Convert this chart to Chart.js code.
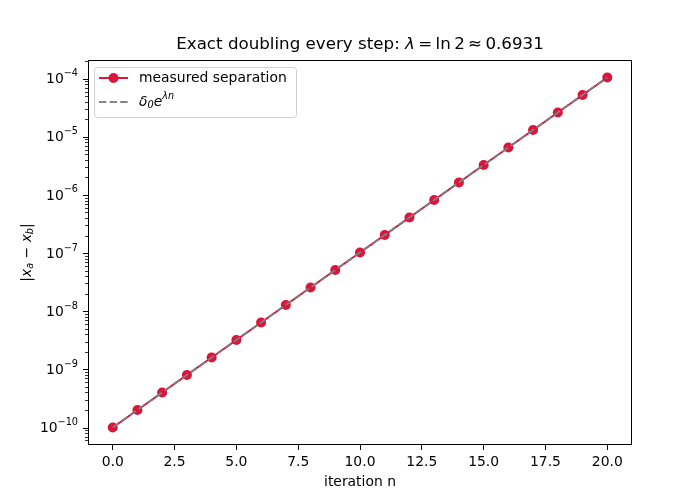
<!DOCTYPE html>
<html>
<head>
<meta charset="utf-8">
<script src="https://cdn.jsdelivr.net/npm/chart.js@4.4.0/dist/chart.umd.min.js"></script>
<style>
  html, body { margin: 0; padding: 0; background: #fff; }
  #wrap { width: 700px; height: 500px; }
</style>
</head>
<body>
<div id="wrap"><canvas id="chart" width="700" height="500"></canvas></div>
<script>
// data
const iterations = [0, 1, 2, 3, 4, 5, 6, 7, 8, 9, 10, 11, 12, 13, 14, 15, 16, 17, 18, 19, 20]
const measured = [
  1e-10, 2e-10, 4e-10, 8e-10, 1.6e-9, 3.2e-9, 6.4e-9, 1.28e-8, 2.56e-8, 5.12e-8,
  1.024e-7, 2.048e-7, 4.096e-7, 8.192e-7, 1.6384e-6, 3.2768e-6, 6.5536e-6,
  1.31072e-5, 2.62144e-5, 5.24288e-5, 1.048576e-4,
]
const fitLine = [
  1e-10, 2e-10, 4e-10, 8e-10, 1.6e-9, 3.2e-9, 6.4e-9, 1.28e-8, 2.56e-8, 5.12e-8,
  1.024e-7, 2.048e-7, 4.096e-7, 8.192e-7, 1.6384e-6, 3.2768e-6, 6.5536e-6,
  1.31072e-5, 2.62144e-5, 5.24288e-5, 1.048576e-4,
]
const xTicks = [0, 2.5, 5, 7.5, 10, 12.5, 15, 17.5, 20]
const yExps = [-10, -9, -8, -7, -6, -5, -4]

const FONT = '"DejaVu Sans", sans-serif'
const RED = '#dc143c'
const GRAY = 'rgba(128,128,128,0.95)'

// draw a run of text pieces (for sub/superscripts and italics)
function runWidth(ctx, runs) {
  let w = 0
  runs.forEach((r) => {
    ctx.font = (r.italic ? 'italic ' : '') + r.size + 'px ' + FONT
    w += ctx.measureText(r.t).width
  })
  return w
}
function drawRuns(ctx, runs, x, y) {
  ctx.textAlign = 'left'
  ctx.textBaseline = 'middle'
  runs.forEach((r) => {
    ctx.font = (r.italic ? 'italic ' : '') + r.size + 'px ' + FONT
    ctx.fillText(r.t, x, y + (r.dy || 0))
    x += ctx.measureText(r.t).width
  })
}

const decor = {
  id: 'decor',
  afterDraw(chart) {
    const ctx = chart.ctx
    const a = chart.chartArea
    const ys = chart.scales.y
    ctx.save()
    ctx.fillStyle = '#000'
    ctx.strokeStyle = '#000'

    // frame
    ctx.lineWidth = 1
    ctx.strokeRect(a.left + 0.5, a.top + 0.5, a.right - a.left - 1, a.bottom - a.top - 1)

    // y ticks, major and minor
    for (let e = -11; e <= -4; e++) {
      for (let k = 1; k <= 9; k++) {
        const v = k * Math.pow(10, e)
        if (v < ys.min || v > ys.max) continue
        const py = Math.round(ys.getPixelForValue(v)) + 0.5
        const len = k === 1 ? 5 : 3
        ctx.lineWidth = k === 1 ? 1 : 0.8
        ctx.beginPath()
        ctx.moveTo(a.left, py)
        ctx.lineTo(a.left - len, py)
        ctx.stroke()
      }
    }
    // y tick labels 10^e
    yExps.forEach((e) => {
      const py = ys.getPixelForValue(Math.pow(10, e))
      const runs = [
        { t: '10', size: 13.9 },
        { t: '\u2212' + Math.abs(e), size: 9.7, dy: -6 },
      ]
      const w = runWidth(ctx, runs)
      drawRuns(ctx, runs, a.left - 10 - w, py + 1)
    })

    // title
    const title = [
      { t: 'Exact doubling every step: ', size: 16.7 },
      { t: '\u03bb', size: 16.7, italic: true },
      { t: '\u2009=\u2009ln\u20092\u2009\u2248\u20090.6931', size: 16.7 },
    ]
    const tw = runWidth(ctx, title)
    drawRuns(ctx, title, (a.left + a.right) / 2 - tw / 2, 45)

    // y axis label
    ctx.save()
    ctx.translate(27, (a.top + a.bottom) / 2)
    ctx.rotate(-Math.PI / 2)
    const ylab = [
      { t: '|', size: 13.9 },
      { t: 'x', size: 13.9, italic: true },
      { t: 'a', size: 9.7, italic: true, dy: 3 },
      { t: ' \u2212 ', size: 13.9 },
      { t: 'x', size: 13.9, italic: true },
      { t: 'b', size: 9.7, italic: true, dy: 3 },
      { t: '|', size: 13.9 },
    ]
    const yw = runWidth(ctx, ylab)
    drawRuns(ctx, ylab, -yw / 2, 0)
    ctx.restore()

    // legend
    const lx = a.left + 6, ly = a.top + 7, lw = 202, lh = 50
    ctx.beginPath()
    ctx.roundRect(lx + 0.5, ly + 0.5, lw, lh, 3)
    ctx.fillStyle = 'rgba(255,255,255,0.8)'
    ctx.fill()
    ctx.strokeStyle = '#d0d0d0'
    ctx.lineWidth = 1
    ctx.stroke()

    const r1 = ly + 11, r2 = ly + 35
    ctx.strokeStyle = RED
    ctx.lineWidth = 2
    ctx.beginPath()
    ctx.moveTo(lx + 5, r1)
    ctx.lineTo(lx + 34, r1)
    ctx.stroke()
    ctx.fillStyle = RED
    ctx.beginPath()
    ctx.arc(lx + 19.5, r1, 5, 0, Math.PI * 2)
    ctx.fill()

    ctx.strokeStyle = GRAY
    ctx.setLineDash([7.4, 3.2])
    ctx.beginPath()
    ctx.moveTo(lx + 5, r2)
    ctx.lineTo(lx + 34, r2)
    ctx.stroke()
    ctx.setLineDash([])

    ctx.fillStyle = '#000'
    drawRuns(ctx, [{ t: 'measured separation', size: 13.9 }], lx + 45, r1)
    drawRuns(ctx, [
      { t: '\u03b4', size: 13.9, italic: true },
      { t: '0', size: 9.7, italic: true, dy: 3 },
      { t: 'e', size: 13.9, italic: true },
      { t: '\u03bbn', size: 9.7, italic: true, dy: -6 },
    ], lx + 45, r2)

    ctx.restore()
  },
}

const ctx = document.getElementById('chart').getContext('2d')
const chart = new Chart(ctx, {
  type: 'line',
  data: {
    labels: iterations,
    datasets: [
      {
        label: 'measured separation',
        data: measured,
        borderColor: RED,
        backgroundColor: RED,
        borderWidth: 2,
        pointRadius: 5,
        pointBorderWidth: 0,
        pointBackgroundColor: RED,
        tension: 0,
        order: 2,
      },
      {
        label: 'fit',
        data: fitLine,
        borderColor: GRAY,
        borderWidth: 2,
        borderDash: [7.4, 3.2],
        pointRadius: 0,
        tension: 0,
        order: 1,
      },
    ],
  },
  options: {
    responsive: false,
    animation: false,
    layout: { padding: { top: 60, right: 68, left: 0, bottom: 0 } },
    plugins: {
      legend: { display: false },
      title: { display: false },
      tooltip: { enabled: false },
    },
    scales: {
      x: {
        type: 'linear',
        min: -1,
        max: 21,
        afterBuildTicks: (s) => {
          s.ticks = xTicks.map((v) => ({ value: v }))
        },
        afterFit: (s) => {
          s.height = 55
        },
        grid: {
          display: true,
          drawOnChartArea: false,
          drawTicks: true,
          tickLength: 5,
          color: '#000',
        },
        border: { display: false },
        ticks: {
          color: '#000',
          font: { family: FONT, size: 13.9 },
          padding: 4,
          maxRotation: 0,
          callback: (v) => v.toFixed(1),
        },
        title: {
          display: true,
          text: 'iteration n',
          color: '#000',
          font: { family: FONT, size: 13.9 },
          padding: { top: 0, bottom: 9 },
        },
      },
      y: {
        type: 'logarithmic',
        min: 5e-11,
        max: 2.097152e-4,
        grid: { display: false },
        border: { display: false },
        ticks: { display: false },
        afterFit: (s) => {
          s.width = 88
        },
      },
    },
  },
  plugins: [decor],
})
</script>
</body>
</html>
